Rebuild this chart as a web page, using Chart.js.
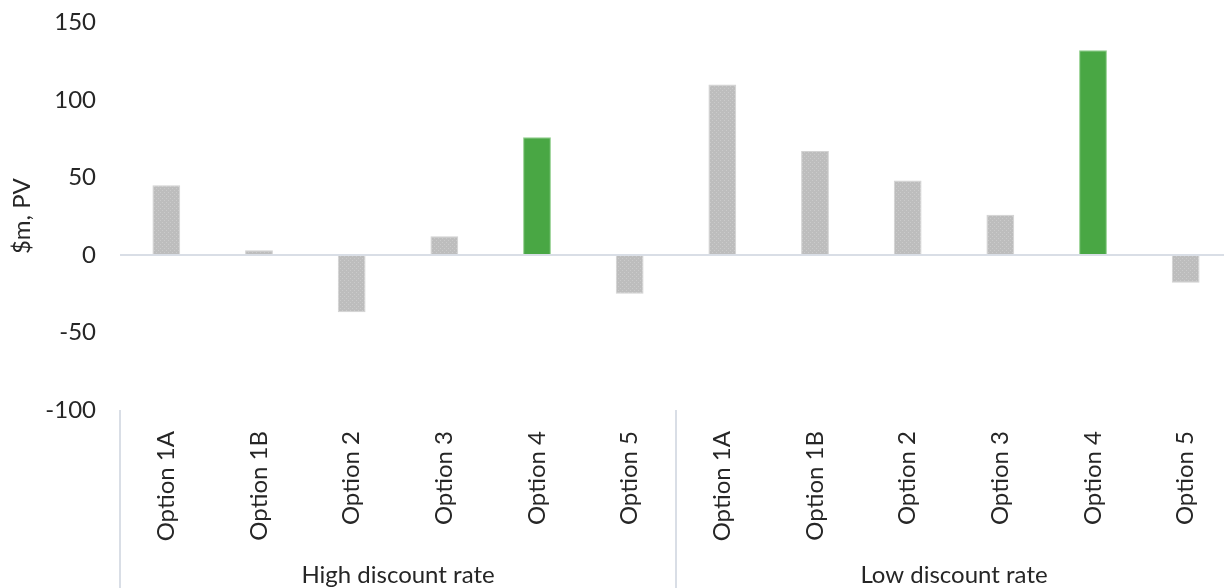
<!DOCTYPE html>
<html>
<head>
<meta charset="utf-8">
<script src="https://cdn.jsdelivr.net/npm/chart.js@4/dist/chart.umd.min.js"></script>
<style>
  html, body { margin: 0; padding: 0; background: #ffffff; overflow: hidden; }
  #wrap { position: relative; top: -16px; width: 1232px; height: 604px; }
</style>
</head>
<body>
<div id="wrap"><canvas id="c"></canvas></div>
<script>
// Net benefit of each option, present value in $m, under two discount rates
const groups = ['High discount rate', 'Low discount rate'];
const options = ['Option 1A', 'Option 1B', 'Option 2', 'Option 3', 'Option 4', 'Option 5'];
const highRate = [45, 3, -37, 12, 76, -25];
const lowRate = [110, 67, 48, 26, 132, -18];
const preferred = 'Option 4';
const yTicks = [-100, -50, 0, 50, 100, 150];

const categories = groups.flatMap(() => options);
const values = highRate.concat(lowRate);

// Stippled grey fill for the ordinary options
function stipple() {
  const p = document.createElement('canvas');
  p.width = 4; p.height = 4;
  const g = p.getContext('2d');
  g.fillStyle = '#bdbdbd';
  g.fillRect(0, 0, 4, 4);
  g.fillStyle = '#cbcbcb';
  g.fillRect(0, 0, 1, 1);
  g.fillRect(2, 2, 1, 1);
  return g.createPattern(p, 'repeat');
}
const grey = stipple();
const fills = categories.map(c => c === preferred ? '#49a744' : grey);
const edges = categories.map(c => c === preferred ? '#8fce8b' : '#d2d2d2');

const FONT = 'Lato';
const TEXT = '#262626';

// Vertical separators below the plot, one at each group boundary
const separators = {
  id: 'separators',
  afterDraw(chart) {
    const x = chart.scales.x;
    const ctx = chart.ctx;
    const area = chart.chartArea;
    const per = options.length;
    const step = x.getPixelForValue(1) - x.getPixelForValue(0);
    ctx.save();
    ctx.strokeStyle = '#d9dee6';
    ctx.lineWidth = 2;
    for (let g = 0; g <= groups.length; g++) {
      let px;
      if (g === 0) px = x.getPixelForValue(0) - step / 2;
      else if (g === groups.length) px = x.getPixelForValue(categories.length - 1) + step / 2;
      else px = (x.getPixelForValue(g * per - 1) + x.getPixelForValue(g * per)) / 2;
      ctx.beginPath();
      ctx.moveTo(px, area.bottom);
      ctx.lineTo(px, chart.height);
      ctx.stroke();
    }
    ctx.restore();
  }
};

new Chart(document.getElementById('c'), {
  type: 'bar',
  data: {
    labels: categories,
    datasets: [{
      data: values,
      backgroundColor: fills,
      borderColor: edges,
      borderWidth: 1,
      barPercentage: 0.3,
      categoryPercentage: 1.0,
      xAxisID: 'x',
      yAxisID: 'y'
    }]
  },
  options: {
    responsive: true,
    maintainAspectRatio: false,
    animation: false,
    layout: { padding: { top: -14, right: 0, bottom: 0, left: 0 } },
    plugins: { legend: { display: false }, tooltip: { enabled: false } },
    scales: {
      x: {
        type: 'category',
        position: 'bottom',
        offset: true,
        grid: { display: false },
        border: { display: false },
        ticks: {
          minRotation: 90, maxRotation: 90, autoSkip: false,
          padding: 13,
          color: TEXT,
          font: { family: FONT, size: 24 }
        },
        afterFit(s) { s.height = 135; }
      },
      groups: {
        type: 'category',
        position: 'bottom',
        labels: groups,
        offset: true,
        grid: { display: false },
        border: { display: false },
        ticks: { padding: 8, color: TEXT, font: { family: FONT, size: 24 } },
        afterFit(s) { s.height = 43; }
      },
      y: {
        min: yTicks[0],
        max: yTicks[yTicks.length - 1],
        afterBuildTicks(s) { s.ticks = yTicks.map(v => ({ value: v })); },
        border: { display: false },
        grid: {
          drawTicks: false,
          color: ctx => ctx.tick && ctx.tick.value === 0 ? '#d9dee6' : 'rgba(0,0,0,0)',
          lineWidth: 2
        },
        ticks: {
          padding: 24,
          color: TEXT,
          font: { family: FONT, size: 24 }
        },
        title: {
          display: true,
          text: '$m, PV',
          color: TEXT,
          font: { family: FONT, size: 24 },
          padding: { top: 8, bottom: 0 }
        },
        afterFit(s) { s.width = 120; }
      }
    }
  },
  plugins: [separators]
});
</script>
</body>
</html>
